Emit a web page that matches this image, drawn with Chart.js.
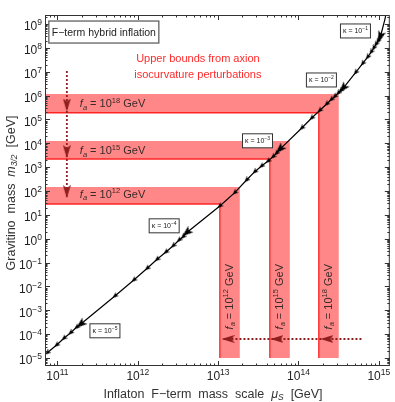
<!DOCTYPE html>
<html>
<head>
<meta charset="utf-8">
<script src="https://cdn.jsdelivr.net/npm/chart.js@4.4.0/dist/chart.umd.min.js"></script>
<style>
  html, body { margin: 0; padding: 0; background: #fff; }
  #wrap { width: 395px; height: 402px; }
</style>
</head>
<body>
<div id="wrap"><canvas id="chart" width="395" height="402"></canvas></div>
<script>
// curve: markers at kappa = k * 10^n, null = no marker
const kappa = [
  5e-6, 6e-6, 7e-6, 8e-6, 9e-6,
  1e-5, 2e-5, 3e-5, 4e-5, 5e-5, 6e-5, 7e-5, 8e-5, 9e-5,
  1e-4, 2e-4, 3e-4, 4e-4, 5e-4, 6e-4, 7e-4, 8e-4, 9e-4,
  1e-3, 2e-3, 3e-3, 4e-3, 5e-3, 6e-3, 7e-3, 8e-3, 9e-3,
  1e-2, 2e-2, 3e-2, 4e-2, 5e-2, 6e-2, 7e-2, 8e-2, 9e-2,
  1e-1, null, null, null
];
const muS = [
  7.47e10, 9.77e10, 1.205e11, 1.46e11, 1.73e11,
  1.94e11, 5.19e11, 8.93e11, 1.31e12, 1.74e12, 2.24e12, 2.76e12, 3.27e12, 3.67e12,
  4.05e12, 1.05e13, 1.61e13, 2.26e13, 2.86e13, 3.47e13, 4.19e13, 4.83e13, 5.32e13,
  5.85e13, 1.10e14, 1.46e14, 1.84e14, 2.24e14, 2.56e14, 2.83e14, 3.13e14, 3.36e14,
  3.59e14, 5.16e14, 6.31e14, 7.28e14, 8.04e14, 8.65e14, 9.23e14, 9.75e14, 1.01e15,
  1.047e15, 1.125e15, 1.195e15, 1.24e15
];
const m32 = [
  1.67e-5, 3.51e-5, 6.70e-5, 1.15e-4, 1.94e-4,
  2.59e-4, 3.97e-3, 1.86e-2, 5.75e-2, 0.137, 0.277, 0.509, 0.883, 1.21,
  1.79, 23.5, 84.9, 289, 644, 1117, 1811, 2742, 3802,
  5598, 4.38e4, 1.15e5, 2.37e5, 4.44e5, 6.85e5, 9.14e5, 1.28e6, 1.63e6,
  2.02e6, 9.27e6, 2.21e7, 4.14e7, 6.70e7, 9.86e7, 1.41e8, 1.88e8, 2.40e8,
  2.94e8, 7.48e8, 1.62e9, 3.18e9
];

// axion isocurvature bounds, f_a = 10^18, 10^15, 10^12 GeV
const faExp = [18, 15, 12];
const bandTop = [1.15e6, 1.25e4, 147];
const bandLine = [1.9e5, 2.19e3, 28.5];
const bandLeft = [1.79e14, 4.40e13, 1.05e13];
const bandRight = [3.17e14, 7.80e13, 1.86e13];
const bandFloor = 1e-5;
const bandStart = 5e10;

// dotted arrows
const downArrowX = 1.31e11;
const downArrowY = [1.07e7, 4.0e5, 4.45e3, 93.5, 57.7];
const leftArrowY = 6.25e-5;
const leftArrowX = [6.08e14, 2.26e14, 5.40e13, 1.33e13, 1.12e13];

// labels
const xTickExp = [11, 12, 13, 14, 15];
const yTickExp = [-5, -4, -3, -2, -1, 0, 1, 2, 3, 4, 5, 6, 7, 8, 9];
const kappaLabelExp = [-1, -2, -3, -4, -5];
const kappaLabelX = [5.12e14, 1.93e14, 3.09e13, 2.13e12, 3.9e11];
const kappaLabelY = [5.1e8, 4.5e6, 1.27e4, 3.47, 1.38e-4];
const faLabelX = 1.9e11;
const faLabelY = [4.7e5, 5.2e3, 75];
const faVertX = [2.33e14, 5.69e13, 1.36e13];
const faVertY = 3.7e-3;

const FONT = '"Liberation Sans", Arial, Helvetica, sans-serif';

function makeArrow(w, h, color) {
  const c = document.createElement('canvas');
  c.width = w; c.height = h;
  const g = c.getContext('2d');
  g.fillStyle = color;
  g.beginPath();
  g.moveTo(w / 2, 0);
  g.lineTo(w, h);
  g.lineTo(w / 2, h * 0.78);
  g.lineTo(0, h);
  g.closePath();
  g.fill();
  return c;
}
const smallArrow = makeArrow(5, 6, '#000');
const bigArrow = makeArrow(8, 11, '#000');
const redArrow = makeArrow(8, 13, '#8f1f1f');

// rotation so the arrow points along the path (dir -1: towards previous point)
function arrowAngle(ctx, dir) {
  const data = ctx.dataset.data, i = ctx.dataIndex, n = data.length;
  const xs = ctx.chart.scales.x, ys = ctx.chart.scales.y;
  const a = data[Math.max(i - 1, 0)], b = data[Math.min(i + 1, n - 1)];
  let dx = xs.getPixelForValue(b.x) - xs.getPixelForValue(a.x);
  let dy = ys.getPixelForValue(b.y) - ys.getPixelForValue(a.y);
  if (dir < 0) { dx = -dx; dy = -dy; }
  return Math.atan2(dx, -dy) * 180 / Math.PI;
}

const datasets = [];
datasets.push({
  label: 'curve',
  data: muS.map((v, i) => ({ x: v, y: m32[i] })),
  showLine: true,
  borderColor: '#000',
  borderWidth: 1.2,
  order: 0,
  pointRadius: (c) => kappa[c.dataIndex] ? 3 : 0,
  pointStyle: (c) => {
    const k = kappa[c.dataIndex];
    if (!k) return 'circle';
    const e = Math.log10(k);
    return Math.abs(e - Math.round(e)) < 1e-6 ? bigArrow : smallArrow;
  },
  pointRotation: (c) => arrowAngle(c, -1)
});

faExp.forEach((fa, i) => {
  datasets.push({
    label: 'band' + fa,
    data: [
      { x: bandStart, y: bandTop[i] },
      { x: bandRight[i], y: bandTop[i] },
      { x: bandRight[i], y: bandFloor },
      { x: bandLeft[i], y: bandFloor },
      { x: bandLeft[i], y: bandLine[i] },
      { x: bandStart, y: bandLine[i] }
    ],
    showLine: true,
    fill: 'shape',
    backgroundColor: 'rgb(255,135,135)',
    borderWidth: 0,
    pointRadius: 0,
    order: 10
  });
  datasets.push({
    label: 'edge' + fa,
    data: [
      { x: bandStart, y: bandLine[i] },
      { x: bandLeft[i], y: bandLine[i] },
      { x: bandLeft[i], y: bandFloor }
    ],
    showLine: true,
    borderColor: '#ff2424',
    borderWidth: 1.3,
    pointRadius: 0,
    order: 5
  });
});

datasets.push({
  label: 'down',
  data: downArrowY.map(v => ({ x: downArrowX, y: v })),
  showLine: true,
  borderColor: '#8f1f1f',
  borderWidth: 1.8,
  borderDash: [2, 2],
  order: 2,
  pointRadius: (c) => (c.dataIndex > 0 && c.dataIndex < downArrowY.length - 1) ? 3 : 0,
  pointStyle: redArrow,
  pointRotation: (c) => arrowAngle(c, 1)
});
datasets.push({
  label: 'left',
  data: leftArrowX.map(v => ({ x: v, y: leftArrowY })),
  showLine: true,
  borderColor: '#8f1f1f',
  borderWidth: 1.8,
  borderDash: [2, 2],
  order: 2,
  pointRadius: (c) => (c.dataIndex > 0 && c.dataIndex < leftArrowX.length - 1) ? 3 : 0,
  pointStyle: redArrow,
  pointRotation: (c) => arrowAngle(c, 1)
});

// draw runs of text: parts {t, s, i, dy}
function drawRuns(ctx, parts, x, y, align, angle, base) {
  ctx.save();
  ctx.translate(x, y);
  if (angle) ctx.rotate(angle);
  let w = 0;
  for (const p of parts) {
    ctx.font = (p.i ? 'italic ' : '') + p.s + 'px ' + FONT;
    p.w = ctx.measureText(p.t).width;
    w += p.w;
  }
  let cx = align === 'center' ? -w / 2 : (align === 'right' ? -w : 0);
  ctx.textAlign = 'left';
  ctx.textBaseline = 'alphabetic';
  const by = 0.36 * (base || parts[0].s);
  for (const p of parts) {
    ctx.font = (p.i ? 'italic ' : '') + p.s + 'px ' + FONT;
    ctx.fillText(p.t, cx, by + (p.dy || 0));
    cx += p.w;
  }
  ctx.restore();
  return w;
}
const minus = (e) => String(e).replace('-', '\u2212');

const decorations = {
  id: 'decorations',
  afterDatasetsDraw(chart) {
    const ctx = chart.ctx, a = chart.chartArea;
    const xs = chart.scales.x, ys = chart.scales.y;
    ctx.save();

    // frame and ticks
    ctx.strokeStyle = '#333';
    ctx.lineWidth = 1;
    ctx.strokeRect(a.left + 0.5, a.top + 0.5, a.right - a.left - 1, a.bottom - a.top - 1);
    ctx.beginPath();
    for (let e = 10; e <= 15; e++) {
      for (let m = 1; m < 10; m++) {
        const px = Math.round(xs.getPixelForValue(m * Math.pow(10, e))) + 0.5;
        if (px < a.left || px > a.right) continue;
        const len = m === 1 ? 5 : 2.5;
        ctx.moveTo(px, a.bottom); ctx.lineTo(px, a.bottom - len);
        ctx.moveTo(px, a.top); ctx.lineTo(px, a.top + len);
      }
    }
    for (let e = -6; e <= 9; e++) {
      for (let m = 1; m < 10; m++) {
        const py = Math.round(ys.getPixelForValue(m * Math.pow(10, e))) + 0.5;
        if (py < a.top || py > a.bottom) continue;
        const len = m === 1 ? 5 : 2.5;
        ctx.moveTo(a.left, py); ctx.lineTo(a.left + len, py);
        ctx.moveTo(a.right, py); ctx.lineTo(a.right - len, py);
      }
    }
    ctx.stroke();

    // tick labels
    ctx.fillStyle = '#222';
    xTickExp.forEach(e => {
      drawRuns(ctx, [{ t: '10', s: 12 }, { t: minus(e), s: 8.5, dy: -5 }],
        xs.getPixelForValue(Math.pow(10, e)), a.bottom + 10, 'center', 0, 12);
    });
    yTickExp.forEach(e => {
      drawRuns(ctx, [{ t: '10', s: 12 }, { t: minus(e), s: 8.5, dy: -5 }],
        a.left - 3, ys.getPixelForValue(Math.pow(10, e)) + 2, 'right', 0, 12);
    });

    // axis titles
    ctx.fillStyle = '#333';
    drawRuns(ctx, [
      { t: 'Inflaton  F\u2212term  mass  scale  ', s: 12.5 },
      { t: '\u03bc', s: 12.5, i: true },
      { t: 'S', s: 8.5, i: true, dy: 2.5 },
      { t: '  [GeV]', s: 12.5 }
    ], 213, 393, 'center', 0, 12.5);
    drawRuns(ctx, [
      { t: 'Gravitino  mass  ', s: 12.5 },
      { t: 'm', s: 12.5, i: true },
      { t: '3/2', s: 8.5, i: true, dy: 2.5 },
      { t: '  [GeV]', s: 12.5 }
    ], 10, 193, 'center', -Math.PI / 2, 12.5);

    // title box
    const bx = xs.getPixelForValue(3.78e11), by = ys.getPixelForValue(4.6e8);
    ctx.fillStyle = '#fff';
    ctx.fillRect(bx - 55, by - 11, 110, 22);
    ctx.strokeStyle = '#555';
    ctx.lineWidth = 1.2;
    ctx.strokeRect(bx - 55, by - 11, 110, 22);
    ctx.fillStyle = '#222';
    drawRuns(ctx, [{ t: 'F\u2212term hybrid inflation', s: 10.5 }], bx, by, 'center');

    // red note
    ctx.fillStyle = '#ff2b2b';
    const nx = xs.getPixelForValue(5.6e12);
    drawRuns(ctx, [{ t: 'Upper bounds from axion', s: 11 }], nx, ys.getPixelForValue(3.65e7), 'center');
    drawRuns(ctx, [{ t: 'isocurvature perturbations', s: 11 }], nx, ys.getPixelForValue(8.0e6), 'center');

    // f_a labels
    ctx.fillStyle = '#3a2a2a';
    faExp.forEach((fa, i) => {
      const parts = [
        { t: 'f', s: 11, i: true },
        { t: 'a', s: 7.5, i: true, dy: 2.5 },
        { t: ' = 10', s: 11 },
        { t: String(fa), s: 7.5, dy: -4.5 },
        { t: ' GeV', s: 11 }
      ];
      drawRuns(ctx, parts, xs.getPixelForValue(faLabelX), ys.getPixelForValue(faLabelY[i]), 'left', 0, 11);
      drawRuns(ctx, parts.map(p => Object.assign({}, p)), xs.getPixelForValue(faVertX[i]),
        ys.getPixelForValue(faVertY), 'center', -Math.PI / 2, 11);
    });

    // kappa labels
    kappaLabelExp.forEach((e, i) => {
      const kx = xs.getPixelForValue(kappaLabelX[i]), ky = ys.getPixelForValue(kappaLabelY[i]);
      ctx.fillStyle = '#fff';
      ctx.fillRect(kx - 15, ky - 7, 30, 14);
      ctx.strokeStyle = '#333';
      ctx.lineWidth = 1;
      ctx.strokeRect(kx - 15, ky - 7, 30, 14);
      ctx.fillStyle = '#222';
      drawRuns(ctx, [
        { t: '\u03ba = 10', s: 7 },
        { t: minus(e), s: 5, dy: -3 }
      ], kx, ky, 'center', 0, 7);
    });

    ctx.restore();
  }
};

new Chart(document.getElementById('chart'), {
  type: 'scatter',
  data: { datasets },
  options: {
    responsive: false,
    animation: false,
    events: [],
    layout: { padding: { left: 45, top: 15, right: 5, bottom: 36 } },
    plugins: { legend: { display: false }, tooltip: { enabled: false } },
    scales: {
      x: { type: 'logarithmic', display: false, min: 7.0e10, max: 1.37e15 },
      y: { type: 'logarithmic', display: false, min: 4.62e-6, max: 2.38e9 }
    }
  },
  plugins: [decorations]
});
</script>
</body>
</html>
